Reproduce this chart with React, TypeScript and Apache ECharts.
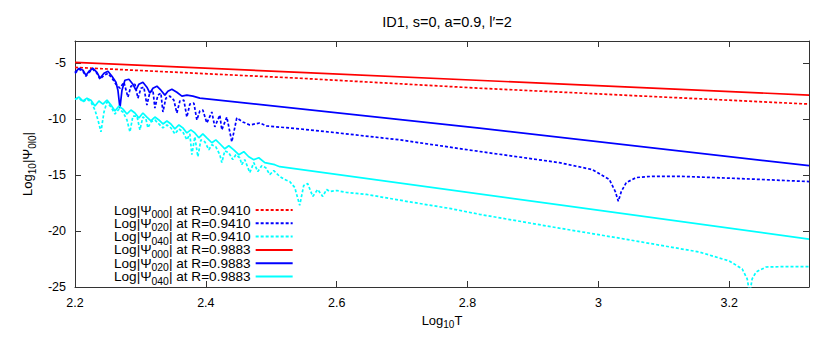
import React, { useEffect, useRef } from 'react';
import * as echarts from 'echarts';

// Log10 T values and Log10|Psi| values
const redDotX = [2.2, 2.5435, 2.8183, 3.322];
const redDotY = [-5.36, -6.33, -7.22, -8.64];

const redSolidX = [2.2, 2.5435, 3.322];
const redSolidY = [-4.91, -5.8, -7.84];

const blueSolidX = [2.2, 2.2061, 2.2122, 2.2168, 2.2214, 2.2275, 2.2336, 2.2382, 2.2443, 2.2504,
  2.2565, 2.2626, 2.2656, 2.2687, 2.2718, 2.2763, 2.2824, 2.2885, 2.2931, 2.2977,
  2.3038, 2.3099, 2.3145, 2.3191, 2.3252, 2.3313, 2.3374, 2.342, 2.3481, 2.3557,
  2.3634, 2.371, 2.3802, 2.3908, 2.8183, 3.322];
const blueSolidY = [-5.8, -5.44, -5.62, -6.07, -5.71, -5.44, -5.8, -6.33, -5.89, -5.71,
  -6.15, -6.69, -7.4, -9.0, -7.4, -6.51, -6.42, -6.86, -7.4, -6.86,
  -6.69, -7.13, -7.66, -7.22, -7.04, -7.4, -7.84, -7.49, -7.31, -7.58,
  -7.93, -7.84, -7.93, -8.11, -10.8, -14.15];

const blueDotX = [2.2, 2.2061, 2.2122, 2.2168, 2.2214, 2.2275, 2.2336, 2.2382, 2.2443, 2.2504,
  2.2565, 2.2626, 2.2687, 2.2748, 2.2809, 2.2855, 2.2916, 2.2962, 2.3008, 2.3053,
  2.3099, 2.3145, 2.3191, 2.3221, 2.3267, 2.3313, 2.3344, 2.3389, 2.345, 2.3511,
  2.3557, 2.3603, 2.3664, 2.371, 2.3756, 2.3817, 2.3863, 2.3908, 2.3954, 2.4015,
  2.4092, 2.4137, 2.4214, 2.4244, 2.4321, 2.4397, 2.4473, 2.4565, 2.4672, 2.4824,
  2.4931, 2.5435, 2.6015, 2.6962, 2.8183, 2.9405, 2.9908, 3.0168, 3.0259, 3.0305,
  3.0351, 3.0427, 3.058, 3.0824, 3.1237, 3.2153, 3.322];
const blueDotY = [-5.89, -5.53, -5.71, -6.15, -5.8, -5.53, -5.89, -6.42, -6.07, -5.89,
  -6.33, -6.86, -7.22, -6.69, -8.02, -7.04, -6.86, -8.11, -7.22, -7.13,
  -8.73, -7.58, -7.4, -9.0, -7.84, -7.66, -9.35, -8.11, -7.93, -8.29,
  -9.44, -8.37, -8.29, -9.8, -8.64, -8.55, -10.06, -9.26, -9.17, -10.33,
  -9.35, -10.68, -9.62, -10.95, -9.8, -12.02, -9.88, -10.24, -10.51, -10.33,
  -10.6, -10.86, -11.22, -11.84, -12.88, -13.88, -14.5, -15.39, -16.46, -17.34,
  -16.46, -15.66, -15.21, -15.1, -15.1, -15.3, -15.57];

const cyanSolidX = [2.2, 2.2061, 2.2122, 2.2183, 2.2244, 2.2305, 2.2366, 2.2427, 2.2489, 2.255,
  2.2611, 2.2672, 2.2733, 2.2794, 2.2855, 2.2916, 2.2977, 2.3038, 2.3099, 2.316,
  2.3221, 2.3282, 2.3344, 2.3405, 2.3466, 2.3527, 2.3588, 2.3649, 2.371, 2.3771,
  2.3832, 2.3893, 2.3954, 2.4015, 2.4092, 2.4153, 2.4214, 2.429, 2.4351, 2.4427,
  2.4504, 2.458, 2.4656, 2.4733, 2.4809, 2.4901, 2.4977, 2.5053, 2.513, 2.9405, 3.322];
const cyanSolidY = [-8.2, -8.02, -8.37, -8.11, -8.29, -8.82, -8.37, -8.64, -8.29, -8.73,
  -9.26, -8.82, -9.09, -9.53, -9.17, -9.44, -9.88, -9.44, -9.8, -10.15,
  -9.8, -10.06, -10.42, -10.15, -10.42, -10.86, -10.51, -10.77, -11.22, -10.95,
  -11.22, -11.66, -11.31, -11.66, -12.1, -11.84, -12.19, -12.64, -12.37, -12.73,
  -13.17, -12.9, -13.35, -13.61, -13.44, -13.88, -13.97, -14.06, -14.24, -17.66, -20.72];

const cyanDotX = [2.2, 2.2061, 2.2122, 2.2183, 2.2244, 2.2305, 2.2351, 2.2397, 2.2443, 2.2489,
  2.255, 2.2611, 2.2672, 2.2733, 2.2794, 2.284, 2.2885, 2.2947, 2.2992, 2.3038,
  2.3084, 2.3115, 2.316, 2.3221, 2.3282, 2.3344, 2.3405, 2.3466, 2.3527, 2.3588,
  2.3649, 2.371, 2.3756, 2.3786, 2.3832, 2.3878, 2.3924, 2.3985, 2.4046, 2.4092,
  2.4153, 2.4214, 2.4244, 2.429, 2.4351, 2.4412, 2.4458, 2.4519, 2.455, 2.4595,
  2.4672, 2.4733, 2.4794, 2.4855, 2.4916, 2.4977, 2.5038, 2.513, 2.5206, 2.5282,
  2.5359, 2.5435, 2.5496, 2.5557, 2.5634, 2.571, 2.5786, 2.5847, 2.5893, 2.6,
  2.6153, 2.6305, 2.6458, 2.6809, 2.716, 2.7725, 2.8183, 2.9405, 3.0321, 3.0931,
  3.1542, 3.2, 3.2198, 3.2275, 3.2313, 3.2351, 3.2412, 3.2565, 3.2809, 3.322];
const cyanDotY = [-8.2, -8.11, -8.46, -8.2, -8.46, -9.17, -10.06, -11.13, -9.35, -8.46,
  -8.91, -9.53, -9.09, -9.35, -10.06, -11.13, -9.71, -9.71, -10.95, -9.8,
  -9.97, -10.77, -10.24, -10.06, -10.42, -10.77, -10.51, -10.77, -11.31, -10.86,
  -11.13, -11.84, -11.31, -13.17, -11.57, -13.35, -11.84, -12.02, -12.73, -12.28,
  -12.46, -13.17, -13.88, -12.82, -12.99, -13.61, -13.17, -13.44, -14.06, -13.61,
  -14.77, -13.88, -14.68, -14.15, -14.33, -14.95, -14.59, -15.12, -15.39, -15.57,
  -16.1, -17.7, -15.92, -15.75, -16.9, -16.28, -16.9, -16.28, -16.46, -16.37,
  -16.55, -16.63, -16.72, -17.08, -17.43, -17.97, -18.5, -19.74, -20.63, -21.25,
  -21.87, -22.67, -23.38, -24.27, -25.6, -24.27, -23.65, -23.21, -23.18, -23.18];

const seriesNames = [
  'Log|Ψ000| at R=0.9410',
  'Log|Ψ020| at R=0.9410',
  'Log|Ψ040| at R=0.9410',
  'Log|Ψ000| at R=0.9883',
  'Log|Ψ020| at R=0.9883',
  'Log|Ψ040| at R=0.9883',
];
const legendSubs = ['000', '020', '040', '000', '020', '040'];
const legendRadii = ['0.9410', '0.9410', '0.9410', '0.9883', '0.9883', '0.9883'];

const titleText = 'ID1, s=0, a=0.9, l′=2';
const xTicks = [2.2, 2.4, 2.6, 2.8, 3, 3.2];
const yTicks = [-25, -20, -15, -10, -5];

const FONT = '"Liberation Sans", Arial, Helvetica, sans-serif';

const zip = (xs: number[], ys: number[]) => xs.map((x, i) => [x, ys[i]]);

const richStyles = {
  a: { fontFamily: FONT, fontSize: 13, color: '#000', lineHeight: 10 },
  s: { fontFamily: FONT, fontSize: 10, color: '#000', height: 1, lineHeight: 1, verticalAlign: 'bottom' },
};
const legendRich = {
  a: { fontFamily: FONT, fontSize: 13.6, color: '#000', lineHeight: 10 },
  s: { fontFamily: FONT, fontSize: 10.4, color: '#000', height: 1, lineHeight: 1, verticalAlign: 'bottom' },
};

export default function App() {
  const ref = useRef<HTMLDivElement>(null);
  useEffect(() => {
    document.body.style.margin = '0';
    const chart = echarts.init(ref.current!, null, { renderer: 'svg' });
    const RED = '#ff0000';
    const BLUE = '#0000ff';
    const CYAN = '#00ffff';
    const dotted = [3, 2];
    const mk = (name: string, xs: number[], ys: number[], color: string, type: any) => ({
      name,
      type: 'line',
      data: zip(xs, ys),
      symbol: 'none',
      showSymbol: false,
      clip: true,
      lineStyle: { color, width: 1.7, type },
      itemStyle: { color },
      z: 2,
    });
    const xFmt = (v: number) => {
      const hit = xTicks.find((t) => Math.abs(t - v) < 1e-6);
      return hit === undefined ? '' : String(hit);
    };
    const yFmt = (v: number) => {
      const hit = yTicks.find((t) => Math.abs(t - v) < 1e-6);
      return hit === undefined ? '' : String(hit);
    };
    const axisLine = { show: true, lineStyle: { color: '#333', width: 1 } };
    const axisTick = { show: true, inside: true, length: 6, lineStyle: { color: '#333' } };
    const legends = seriesNames.map((name, i) => ({
      left: 114,
      top: 203 + 13.3 * i,
      orient: 'vertical',
      align: 'right',
      itemWidth: 37,
      itemHeight: 10,
      padding: 0,
      selectedMode: false,
      data: [name],
      itemStyle: { opacity: 0, borderWidth: 0 },
      formatter: () => `{a|Log|Ψ}{s|${legendSubs[i]}}{a|| at R=${legendRadii[i]}}`,
      textStyle: { fontFamily: FONT, fontSize: 13.6, color: '#000', rich: legendRich },
    }));
    const option: any = {
      animation: false,
      backgroundColor: '#fff',
      title: {
        text: titleText,
        left: 442,
        top: 9,
        textAlign: 'center',
        textStyle: { fontFamily: FONT, fontSize: 14.5, fontWeight: 'normal', color: '#000' },
      },
      grid: { left: 75, right: 21, top: 41, bottom: 61, show: false },
      legend: legends,
      xAxis: [
        {
          type: 'value',
          min: 2.2,
          max: 3.322,
          interval: 0.2,
          position: 'bottom',
          axisLine,
          axisTick,
          splitLine: { show: false },
          axisLabel: { color: '#000', fontFamily: FONT, fontSize: 12.5, margin: 9, formatter: xFmt },
          name: '{a|Log}{s|10}{a|T}',
          nameLocation: 'middle',
          nameGap: 28,
          nameTextStyle: { rich: richStyles },
        },
        {
          type: 'value',
          min: 2.2,
          max: 3.322,
          interval: 0.2,
          position: 'top',
          axisLine,
          axisTick,
          splitLine: { show: false },
          axisLabel: { show: false },
        },
      ],
      yAxis: [
        {
          type: 'value',
          min: -25,
          max: -3,
          interval: 5,
          position: 'left',
          axisLine,
          axisTick,
          splitLine: { show: false },
          axisLabel: { color: '#000', fontFamily: FONT, fontSize: 12.5, margin: 9, formatter: yFmt },
          name: '{a|Log}{s|10}{a||Ψ}{s|0l0}{a||}',
          nameLocation: 'middle',
          nameRotate: 90,
          nameGap: 42,
          nameTextStyle: { rich: richStyles },
        },
        {
          type: 'value',
          min: -25,
          max: -3,
          interval: 5,
          position: 'right',
          axisLine,
          axisTick,
          splitLine: { show: false },
          axisLabel: { show: false },
        },
      ],
      series: [
        mk(seriesNames[0], redDotX, redDotY, RED, dotted),
        mk(seriesNames[1], blueDotX, blueDotY, BLUE, dotted),
        mk(seriesNames[2], cyanDotX, cyanDotY, CYAN, dotted),
        mk(seriesNames[3], redSolidX, redSolidY, RED, 'solid'),
        mk(seriesNames[4], blueSolidX, blueSolidY, BLUE, 'solid'),
        mk(seriesNames[5], cyanSolidX, cyanSolidY, CYAN, 'solid'),
      ],
    };
    chart.setOption(option);
    return () => chart.dispose();
  }, []);
  return <div ref={ref} style={{ width: 830, height: 348 }} />;
}
